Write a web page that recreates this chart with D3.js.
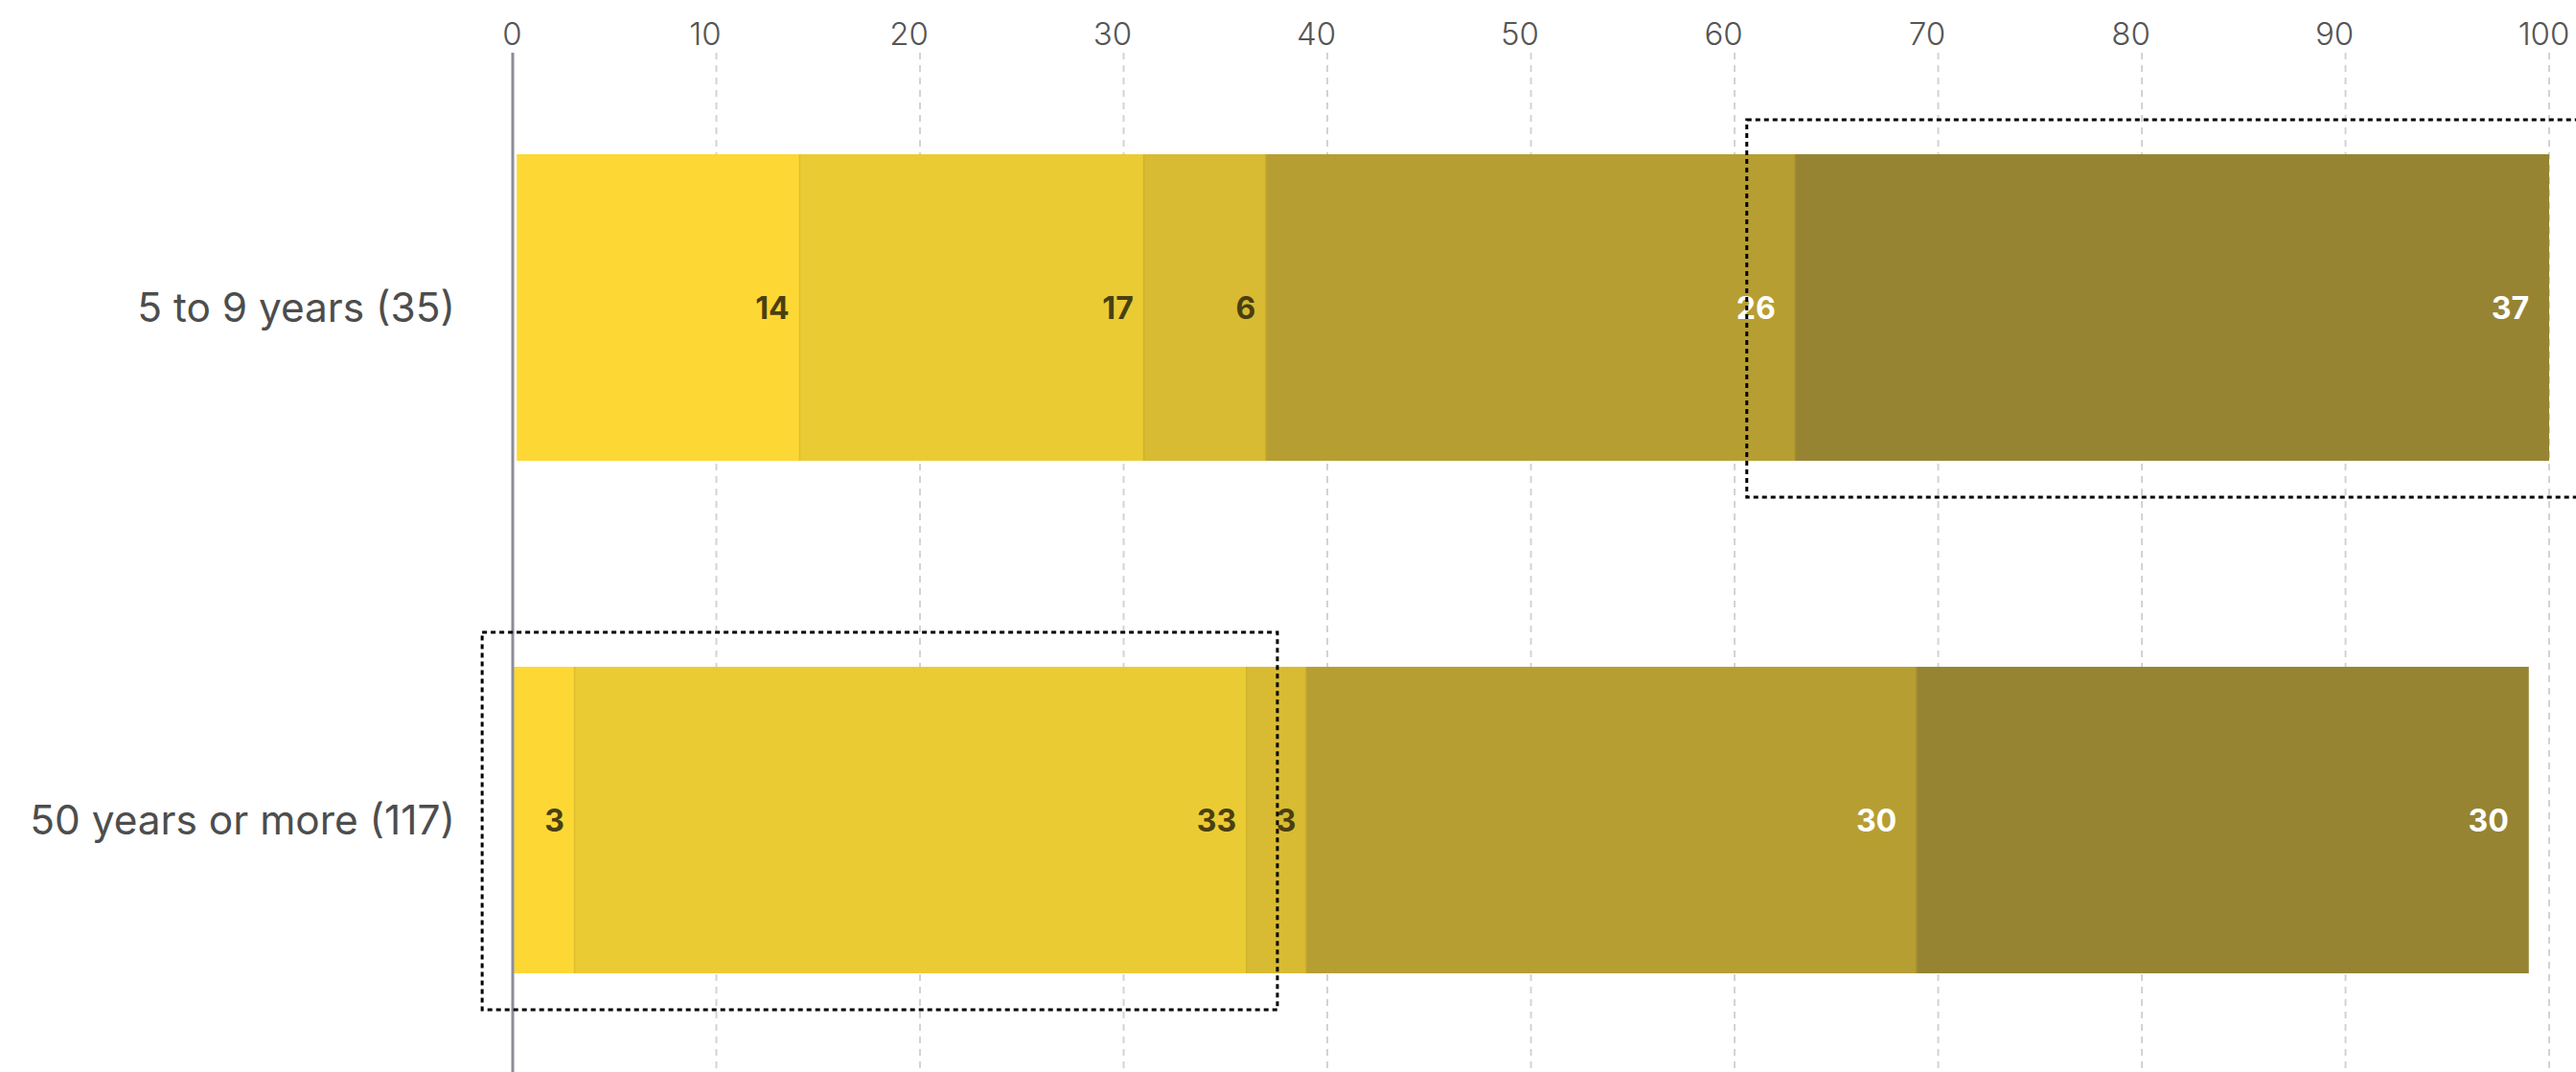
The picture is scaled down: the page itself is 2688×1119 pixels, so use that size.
<!DOCTYPE html>
<html>
<head>
<meta charset="utf-8">
<script src="https://cdn.jsdelivr.net/npm/d3@7"></script>
<style>
  html, body { margin: 0; padding: 0; background: #fff; }
  svg { display: block; font-family: Inter, "Noto Sans", sans-serif; }
</style>
</head>
<body>
<svg id="chart" width="2688" height="1119"></svg>
<script>
// ---- data ----
const categories = ["5 to 9 years (35)", "50 years or more (117)"];
const seriesNames = ["A", "B", "C", "D", "E"];
// segment values (percent) per category
const valuesTop = [13.9, 16.9, 6.0, 26.0, 37.0];
const valuesBottom = [3.05, 33.0, 2.93, 29.97, 30.05];
const labelsTop = ["14", "17", "6", "26", "37"];
const labelsBottom = ["3", "33", "3", "30", "30"];
const startOffsets = [0.2, 0];   // where each stacked bar begins
const tickValues = [0, 10, 20, 30, 40, 50, 60, 70, 80, 90, 100];
// highlight boxes: [category index, from, to]
const highlightCat = [0, 1];
const highlightFrom = [60.6, -1.5];
const highlightTo = [101.8, 37.55];

const colors = ["#fdd835", "#ebcb33", "#d8bb32", "#b69e32", "#968433"];
const labelColors = ["#4a3f10", "#4a3f10", "#4a3f10", "#ffffff", "#ffffff"];

const rows = [
  { cat: categories[0], values: valuesTop, labels: labelsTop, start: startOffsets[0] },
  { cat: categories[1], values: valuesBottom, labels: labelsBottom, start: startOffsets[1] }
];

// ---- scales ----
const svg = d3.select("#chart");
const x = d3.scaleLinear().domain([0, 100]).range([535, 2660]);
const y = d3.scaleBand().domain(categories).range([54, 1123])
  .paddingInner(0.402).paddingOuter(0.2);

// ---- grid ----
const grid = svg.append("g");
grid.selectAll("line").data(tickValues.filter(d => d !== 0)).join("line")
  .attr("x1", d => x(d)).attr("x2", d => x(d))
  .attr("y1", 55).attr("y2", 1119)
  .attr("stroke", "#d3d3d3").attr("stroke-width", 2)
  .attr("stroke-dasharray", "7,6");

// ---- top axis labels ----
const axis = d3.axisTop(x).tickValues(tickValues).tickSize(0).tickPadding(0)
  .tickFormat(d3.format("d"));
const ax = svg.append("g").attr("transform", "translate(0,47)").call(axis);
ax.select(".domain").remove();
ax.selectAll("text")
  .attr("font-family", "Inter, sans-serif")
  .attr("font-size", 33).attr("font-weight", 300)
  .attr("fill", "#555").attr("dy", 0)
  .attr("dx", d => { const n = String(d).length; return n === 1 ? -1 : (n === 2 ? -12 : -6); });

// ---- bars ----
rows.forEach(row => {
  let acc = row.start;
  const segs = row.values.map((v, i) => {
    const s = { x0: acc, x1: acc + v, i, label: row.labels[i] };
    acc += v;
    return s;
  });
  const g = svg.append("g");
  g.selectAll("rect.seg").data(segs).join("rect").attr("class", "seg")
    .attr("x", d => x(d.x0)).attr("width", d => x(d.x1) - x(d.x0))
    .attr("y", y(row.cat)).attr("height", y.bandwidth())
    .attr("fill", d => colors[d.i]);
  // thin darker seam at each segment boundary
  g.selectAll("rect.seam").data(segs.filter(d => d.i > 0)).join("rect").attr("class", "seam")
    .attr("x", d => x(d.x0) - 1).attr("width", 1.6)
    .attr("y", y(row.cat)).attr("height", y.bandwidth())
    .attr("fill", d => d3.color(colors[d.i - 1]).darker(0.35));
  g.selectAll("text").data(segs).join("text")
    .attr("x", d => x(d.x1) - (d.i >= 3 ? 21 : 11))
    .attr("y", y(row.cat) + y.bandwidth() / 2)
    .attr("dy", "0.36em")
    .attr("text-anchor", "end")
    .attr("font-family", "Inter, sans-serif")
    .attr("font-size", 32).attr("font-weight", 700)
    .attr("fill", d => labelColors[d.i])
    .text(d => d.label);
});

// ---- zero axis line ----
svg.append("line")
  .attr("x1", x(0)).attr("x2", x(0)).attr("y1", 55).attr("y2", 1119)
  .attr("stroke", "#8c8c9a").attr("stroke-width", 3);

// ---- category labels ----
svg.append("g").selectAll("text").data(categories).join("text")
  .attr("x", x(0) - 60)
  .attr("y", d => y(d) + y.bandwidth() / 2)
  .attr("dy", "0.36em")
  .attr("text-anchor", "end")
  .attr("font-family", "Inter, sans-serif")
  .attr("font-size", 42.4).attr("font-weight", 400)
  .attr("fill", "#4d4d4d")
  .text(d => d);

// ---- highlight boxes ----
svg.append("g").selectAll("rect").data(highlightCat.map((c, i) => ({ c, i }))).join("rect")
  .attr("x", d => x(highlightFrom[d.i]))
  .attr("width", d => x(highlightTo[d.i]) - x(highlightFrom[d.i]))
  .attr("y", d => y(categories[d.c]) - 36)
  .attr("height", d => y.bandwidth() + 74)
  .attr("fill", "none").attr("stroke", "#000")
  .attr("stroke-width", 3).attr("stroke-dasharray", "5,4");
</script>
</body>
</html>
